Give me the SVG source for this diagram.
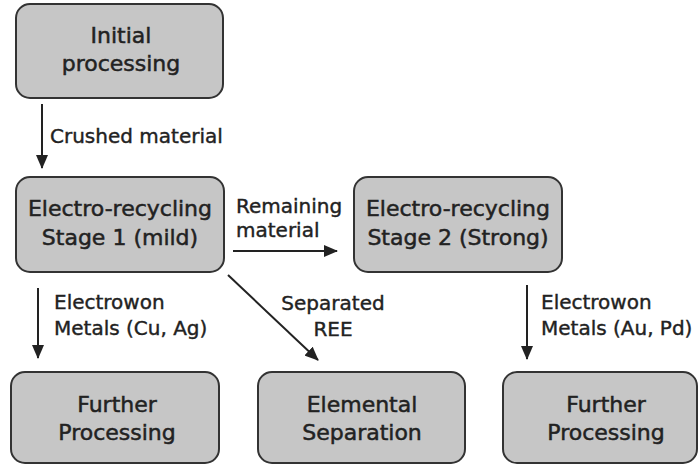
<svg xmlns="http://www.w3.org/2000/svg" width="700" height="468" viewBox="0 0 700 468">
<style>
.box{fill:#c6c6c6;stroke:#333;stroke-width:2}
.nt{font-family:"DejaVu Sans",sans-serif;font-size:22px;fill:#222;stroke:#222;stroke-width:0.5;text-anchor:middle}
.lt{font-family:"DejaVu Sans",sans-serif;font-size:20px;fill:#222;stroke:#222;stroke-width:0.4}
.ln{stroke:#222;stroke-width:2;fill:none}
</style>
<defs>
<marker id="ah" markerWidth="14" markerHeight="12" refX="13" refY="6" orient="auto" markerUnits="userSpaceOnUse" viewBox="0 0 14 12">
<path d="M0,0 L14,6 L0,12 z" fill="#222"/>
</marker>
</defs>
<rect width="700" height="468" fill="#fff"/>
<g id="n1"><rect class="box" x="16" y="4" width="207" height="94" rx="14"/>
<text class="nt" x="121" y="43">Initial</text><text class="nt" x="121" y="71">processing</text></g>
<g id="n2"><rect class="box" x="16" y="177" width="208" height="95" rx="14"/>
<text class="nt" x="120" y="216">Electro-recycling</text><text class="nt" x="120" y="245">Stage 1 (mild)</text></g>
<g id="n3"><rect class="box" x="354" y="177" width="208" height="95" rx="14"/>
<text class="nt" x="458" y="216">Electro-recycling</text><text class="nt" x="458" y="245">Stage 2 (Strong)</text></g>
<g id="n4"><rect class="box" x="11" y="372" width="208" height="91" rx="14"/>
<text class="nt" x="117" y="412">Further</text><text class="nt" x="117" y="440">Processing</text></g>
<g id="n5"><rect class="box" x="258" y="372" width="207" height="91" rx="14"/>
<text class="nt" x="362" y="412">Elemental</text><text class="nt" x="362" y="440">Separation</text></g>
<g id="n6"><rect class="box" x="503" y="372" width="194" height="91" rx="14"/>
<text class="nt" x="606" y="412">Further</text><text class="nt" x="606" y="440">Processing</text></g>
<g id="connectors">
<line class="ln" x1="42" y1="104" x2="42" y2="168" marker-end="url(#ah)"/>
<line class="ln" x1="233" y1="251" x2="337" y2="251" marker-end="url(#ah)"/>
<line class="ln" x1="38" y1="288" x2="38" y2="358" marker-end="url(#ah)"/>
<line class="ln" x1="228" y1="275" x2="318" y2="360" marker-end="url(#ah)"/>
<line class="ln" x1="527" y1="285" x2="527" y2="359" marker-end="url(#ah)"/>
<text class="lt" x="50" y="143">Crushed material</text>
<text class="lt" x="236" y="213">Remaining</text>
<text class="lt" x="236" y="237">material</text>
<text class="lt" x="54" y="309">Electrowon</text>
<text class="lt" x="54" y="335">Metals (Cu, Ag)</text>
<text class="lt" x="333" y="310" text-anchor="middle">Separated</text>
<text class="lt" x="333" y="336" text-anchor="middle">REE</text>
<text class="lt" x="541" y="309">Electrowon</text>
<text class="lt" x="541" y="335">Metals (Au, Pd)</text>
</g>
</svg>
